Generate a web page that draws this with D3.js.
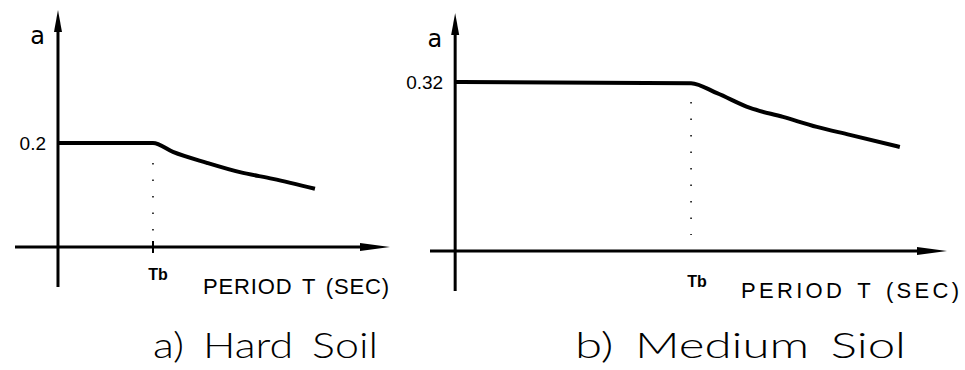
<!DOCTYPE html>
<meta charset="utf-8">
<script src="https://d3js.org/d3.v7.min.js"></script>
<style>
  body { margin: 0; background: #fff; }
  text { font-family: "Liberation Sans", "DejaVu Sans", sans-serif; fill: #000; }
</style>
<div id="chart"></div>
<script>

// hard soil (panel a)
var hardT = [0, 0.4, 0.484, 0.627, 0.766, 0.905, 1.082];
var hardA = [0.2, 0.2, 0.183, 0.162, 0.144, 0.131, 0.112];
var hardTb = 0.4, hardAmax = 0.2;

// medium soil (panel b)
var medT = [0, 0.6, 0.666, 0.75, 0.834, 0.92, 1.004, 1.131];
var medA = [0.32, 0.318, 0.299, 0.271, 0.254, 0.235, 0.22, 0.197];
var medTb = 0.6, medAmax = 0.32;

var tickLabels = ["0.2", "0.32"];
var captions = ["a) Hard Soil", "b) Medium Siol"];
var xTitle = "PERIOD T (SEC)";

var svg = d3.select("#chart")
  .append("svg")
    .attr("width", 965)
    .attr("height", 370);

// panel layout: pixel box of each sketch
var panels = [
  { T: hardT, A: hardA, Tb: hardTb, amax: hardAmax, tick: tickLabels[0], cap: captions[0],
    xd: [-0.181, 1.398], xr: [15, 390], yd: [-0.077, 0.456], yr: [287, 10],
    tbX: 158, tbY: 280, titleX: [203, 389], titleY: 294, capX: [153, 378] },
  { T: medT, A: medA, Tb: medTb, amax: medAmax, tick: tickLabels[1], cap: captions[1],
    xd: [-0.064, 1.251], xr: [430, 947], yd: [-0.076, 0.451], yr: [291, 13],
    tbX: 697, tbY: 287, titleX: [741, 959], titleY: 298, capX: [575, 906] }
];

panels.forEach(function(p, k) {
  var x = d3.scaleLinear().domain(p.xd).range(p.xr);
  var y = d3.scaleLinear().domain(p.yd).range(p.yr);
  var g = svg.append("g");

  // x axis with arrow
  var xEnd = x(p.xd[1]);
  g.append("line")
    .attr("x1", x(p.xd[0])).attr("x2", xEnd - 20)
    .attr("y1", y(0)).attr("y2", y(0))
    .attr("stroke", "black").attr("stroke-width", 3);
  g.append("path")
    .attr("d", "M" + (xEnd - 30) + "," + (y(0) - 4) + "L" + xEnd + "," + y(0) + "L" + (xEnd - 30) + "," + (y(0) + 4) + "Z")
    .attr("fill", "black");

  // y axis with arrow
  var yTop = y(p.yd[1]);
  g.append("line")
    .attr("x1", x(0)).attr("x2", x(0))
    .attr("y1", y(p.yd[0])).attr("y2", yTop + 15)
    .attr("stroke", "black").attr("stroke-width", 3);
  g.append("path")
    .attr("d", "M" + (x(0) - 4) + "," + (yTop + 22) + "L" + x(0) + "," + yTop + "L" + (x(0) + 4) + "," + (yTop + 22) + "Z")
    .attr("fill", "black");

  // Tb tick on the hard soil axis
  if (k === 0) {
    g.append("line")
      .attr("x1", x(p.Tb)).attr("x2", x(p.Tb))
      .attr("y1", y(0) - 6).attr("y2", y(0) + 6)
      .attr("stroke", "black").attr("stroke-width", 2);
  }

  // dotted line at Tb
  g.append("line")
    .attr("x1", x(p.Tb)).attr("x2", x(p.Tb))
    .attr("y1", y(p.amax) + 20).attr("y2", y(0) - 16)
    .attr("stroke", "black").attr("stroke-width", 1.5)
    .attr("stroke-dasharray", "1.5,15");

  // spectrum curve
  var pts = p.T.map(function(t, i) { return [t, p.A[i]]; });
  g.append("path")
    .datum(pts)
    .attr("d", d3.line()
      .x(function(d) { return x(d[0]); })
      .y(function(d) { return y(d[1]); })
      .curve(d3.curveMonotoneX))
    .attr("fill", "none")
    .attr("stroke", "black")
    .attr("stroke-width", 4)
    .attr("stroke-linejoin", "round");

  // labels
  g.append("text")
    .attr("x", x(0) - 13).attr("y", yTop + 34)
    .attr("text-anchor", "end")
    .style("font-size", "24px")
    .style("font-family", "'DejaVu Sans', sans-serif")
    .text("a");
  g.append("text")
    .attr("x", x(0) - 12).attr("y", y(p.amax) + 7)
    .attr("text-anchor", "end")
    .style("font-size", "19px")
    .text(p.tick);
  g.append("text")
    .attr("x", p.tbX).attr("y", p.tbY)
    .attr("text-anchor", "middle")
    .style("font-size", "16px")
    .style("font-weight", "bold")
    .text("Tb");
  g.append("text")
    .attr("x", p.titleX[0]).attr("y", p.titleY)
    .attr("textLength", p.titleX[1] - p.titleX[0])
    .attr("lengthAdjust", "spacing")
    .style("font-size", "22px")
    .style("word-spacing", "3px")
    .text(xTitle);
  g.append("text")
    .attr("x", p.capX[0]).attr("y", 358)
    .attr("textLength", p.capX[1] - p.capX[0])
    .attr("lengthAdjust", "spacingAndGlyphs")
    .style("font-size", "36px")
    .style("word-spacing", "6px")
    .style("font-family", "Lato, 'Open Sans', sans-serif")
    .style("font-weight", "300")
    .text(p.cap);
});

</script>
